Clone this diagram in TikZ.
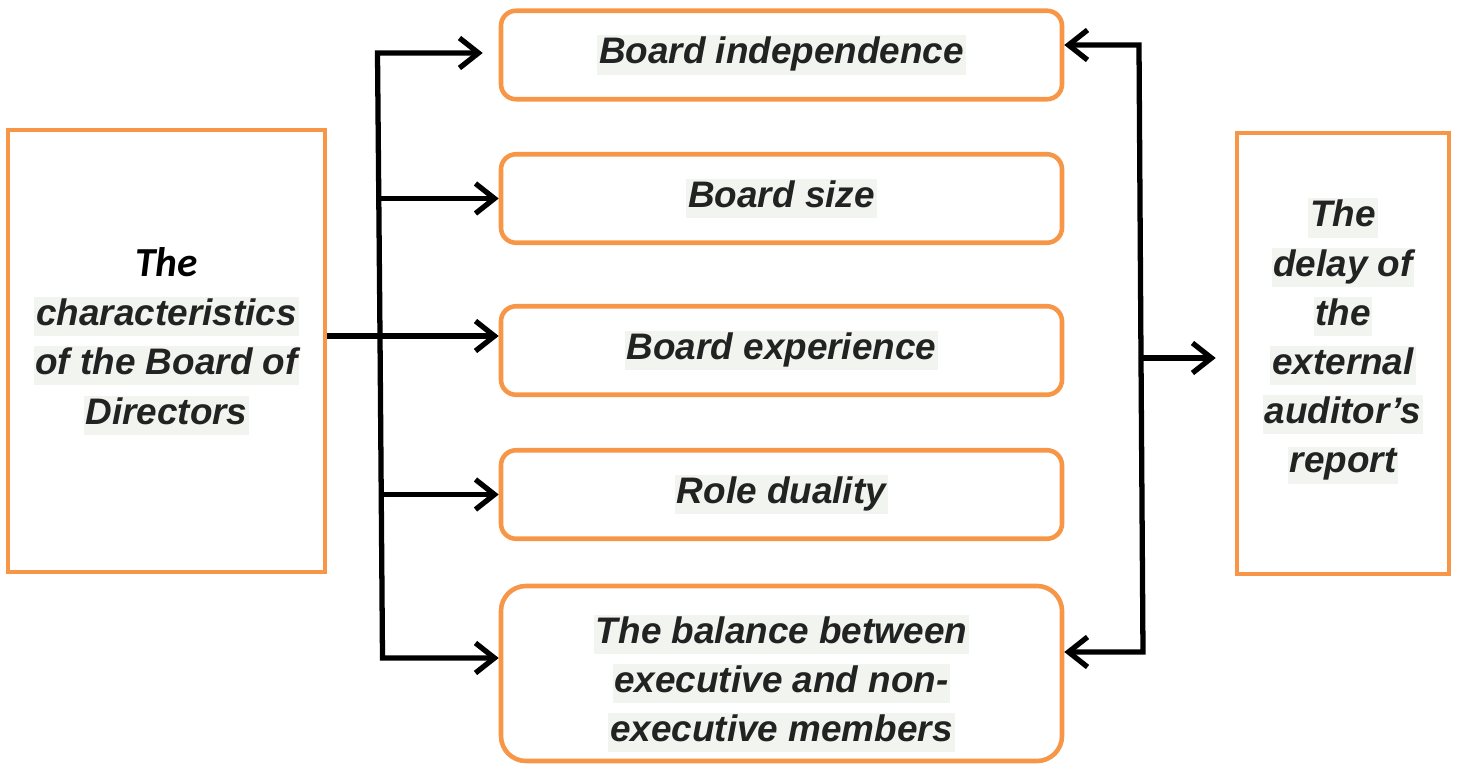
\documentclass[tikz,border=0pt]{standalone}
\usepackage{fontspec}
\setmainfont{Liberation Sans}
\newfontfamily\calibrifont{Carlito}
\usetikzlibrary{arrows.meta}
\definecolor{boxorange}{HTML}{F79646}
\definecolor{hlgray}{HTML}{F2F4F0}
\definecolor{textgray}{HTML}{222222}
\newcommand{\hl}[1]{{\setlength{\fboxsep}{1pt}\colorbox{hlgray}{\rule[-5pt]{0pt}{19pt}#1}}}
\begin{document}
\begin{tikzpicture}[
    sidebox/.style={rectangle, draw=boxorange, line width=2.6pt},
    boxtext/.style={align=center, text=textgray, font=\fontsize{21}{28}\selectfont\bfseries\itshape},
    factor/.style={rectangle, rounded corners=0.3cm, draw=boxorange, line width=2.6pt, minimum width=11.22cm, minimum height=1.77cm, align=center, text=textgray, font=\fontsize{21}{28}\selectfont\bfseries\itshape},
    connector/.style={draw=black, line width=3pt, line join=miter},
    arrow/.style={connector, -{Straight Barb[length=0.38cm, width=0.6cm]}}
]
\useasboundingbox (0,0) rectangle (29.14,15.26);

% Outer boxes
\node[sidebox, minimum width=6.34cm, minimum height=8.84cm] (chars) at (3.33,8.24) {};
\node[boxtext] (charstext) at ([yshift=0.2cm]chars.center) {{\calibrifont\color{black}\fontsize{23.5}{28}\selectfont The}\\\hl{characteristics}\\\hl{of the Board of}\\\hl{Directors}};
\node[sidebox, minimum width=4.24cm, minimum height=8.82cm] (delay) at (26.86,8.19) {};
\node[boxtext] (delaytext) at ([yshift=0.25cm]delay.center) {\hl{The}\\\hl{delay of}\\\hl{the}\\\hl{external}\\\hl{auditor’s}\\\hl{report}};

% Board characteristics
\node[factor] (indep) at (15.63,14.16) {\hl{Board independence}};
\node[factor] (size) at (15.63,11.29) {\hl{Board size}};
\node[factor] (exper) at (15.63,8.25) {\hl{Board experience}};
\node[factor] (dual) at (15.63,5.37) {\hl{Role duality}};
\node[factor, rounded corners=0.5cm, minimum height=3.5cm] (bal) at (15.63,1.79) {};
\node[boxtext] (baltext) at ([yshift=-0.2cm]bal.center) {\hl{The balance between}\\\hl{executive and non-}\\\hl{executive members}};

% Bus points
\coordinate (lt) at (7.55,14.2);
\coordinate (lm) at (7.6,8.54);
\coordinate (lb) at (7.65,2.1);
\coordinate (rt) at (22.78,14.36);
\coordinate (rm) at (22.82,8.1);
\coordinate (rb) at (22.86,2.22);

% Arrows
\draw[connector] (chars.east |- lm) -- (lm);
\draw[arrow, shorten >=0.32cm] (lm) -- (lt) -- (lt -| indep.west);
\draw[arrow] (lm) -- (lb) -- (lb -| bal.west);
\draw[arrow] (lt |- size.west) -- (size.west);
\draw[arrow] (lm) -- (lm -| exper.west);
\draw[arrow] (lb |- dual.west) -- (dual.west);

\draw[arrow] (rm) -- (rt) -- (rt -| indep.east);
\draw[arrow] (rm) -- (rb) -- (rb -| bal.east);
\draw[arrow, shorten >=0.38cm] (rm) -- (rm -| delay.west);

\end{tikzpicture}
\end{document}
